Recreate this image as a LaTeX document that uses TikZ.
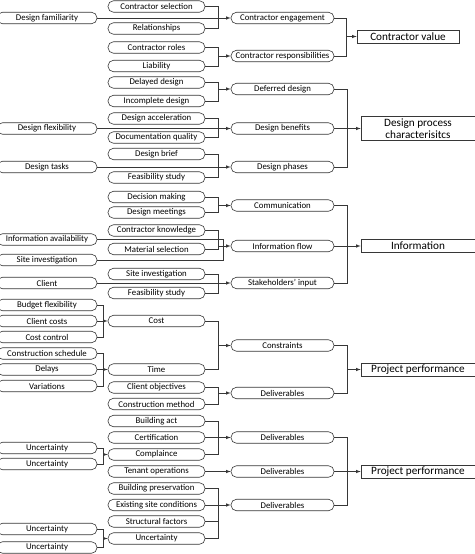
\documentclass[tikz,border=0pt]{standalone}
\usepackage{fontspec}
\setmainfont{Carlito}
\usetikzlibrary{arrows}
\definecolor{linegray}{RGB}{55,55,55}

\begin{document}
\begin{tikzpicture}[x=1pt, y=-1pt, line width=0.6pt,
  cell/.style={rectangle, draw=linegray, rounded corners=5.5pt, minimum height=11.5pt, inner sep=0pt, font=\fontsize{8.8}{10}\selectfont},
  cellA/.style={cell, minimum width=100pt},
  cellB/.style={cell, minimum width=97pt},
  cellC/.style={cell, minimum width=103pt},
  result/.style={rectangle, draw=linegray, minimum width=114pt, minimum height=13pt, inner sep=0pt, align=center, font=\fontsize{11.2}{12.5}\selectfont},
  wire/.style={draw=linegray},
  link/.style={->, >=latex, draw=linegray}]

\useasboundingbox (0,0) rectangle (474,554);

% left column
\node[cellA] at (47,18) (famil) {Design familiarity};
\node[cellA] at (47,128.5) (flexib) {Design flexibility};
\node[cellA] at (47,167) (tasks) {Design tasks};
\node[cellA] at (47,239.5) (infoav) {Information availability};
\node[cellA] at (47,260) (siteA) {Site investigation};
\node[cellA] at (47,283) (client) {Client};
\node[cellA] at (47,305) (budget) {Budget flexibility};
\node[cellA] at (47,321) (clcost) {Client costs};
\node[cellA] at (47,337) (costctl) {Cost control};
\node[cellA] at (47,353.5) (sched) {Construction schedule};
\node[cellA] at (47,369.5) (delays) {Delays};
\node[cellA] at (47,386) (variat) {Variations};
\node[cellA] at (47,448) (uncA1) {Uncertainty};
\node[cellA] at (47,464) (uncA2) {Uncertainty};
\node[cellA] at (47,529) (uncA3) {Uncertainty};
\node[cellA] at (47,547.5) (uncA4) {Uncertainty};

% second column
\node[cellB] at (156.5,6.5) (csel) {Contractor selection};
\node[cellB] at (156.5,28.5) (relat) {Relationships};
\node[cellB] at (156.5,47.5) (croles) {Contractor roles};
\node[cellB] at (156.5,66) (liab) {Liability};
\node[cellB] at (156.5,82.5) (deldes) {Delayed design};
\node[cellB] at (156.5,101) (incdes) {Incomplete design};
\node[cellB] at (156.5,118.5) (desacc) {Design acceleration};
\node[cellB] at (156.5,137.5) (docq) {Documentation quality};
\node[cellB] at (156.5,154) (brief) {Design brief};
\node[cellB] at (156.5,177.5) (feasA) {Feasibility study};
\node[cellB] at (156.5,197) (decmak) {Decision making};
\node[cellB] at (156.5,212.5) (desmeet) {Design meetings};
\node[cellB] at (156.5,230.5) (cknow) {Contractor knowledge};
\node[cellB] at (156.5,249) (matsel) {Material selection};
\node[cellB] at (156.5,274) (siteB) {Site investigation};
\node[cellB] at (156.5,293) (feasB) {Feasibility study};
\node[cellB] at (156.5,321) (cost) {Cost};
\node[cellB] at (156.5,369.5) (time) {Time};
\node[cellB] at (156.5,387.5) (clobj) {Client objectives};
\node[cellB] at (156.5,404) (cmeth) {Construction method};
\node[cellB] at (156.5,421) (bact) {Building act};
\node[cellB] at (156.5,437.5) (cert) {Certification};
\node[cellB] at (156.5,454.5) (compl) {Complaince};
\node[cellB] at (156.5,471.5) (tenant) {Tenant operations};
\node[cellB] at (156.5,488.5) (bpres) {Building preservation};
\node[cellB] at (156.5,505) (exsite) {Existing site conditions};
\node[cellB] at (156.5,521.5) (struct) {Structural factors};
\node[cellB] at (156.5,538.5) (uncB) {Uncertainty};

% third column
\node[cellC] at (282.5,18) (engage) {Contractor engagement};
\node[cellC] at (282.5,56) (respons) {Contractor responsibilities};
\node[cellC] at (282.5,89) (deferred) {Deferred design};
\node[cellC] at (282.5,128.5) (benefits) {Design benefits};
\node[cellC] at (282.5,167) (phases) {Design phases};
\node[cellC] at (282.5,205.5) (comm) {Communication};
\node[cellC] at (282.5,246) (iflow) {Information flow};
\node[cellC] at (282.5,283) (stake) {Stakeholders' input};
\node[cellC] at (282.5,345.5) (constr) {Constraints};
\node[cellC] at (282.5,393) (deliv1) {Deliverables};
\node[cellC] at (282.5,437.5) (deliv2) {Deliverables};
\node[cellC] at (282.5,471.5) (deliv3) {Deliverables};
\node[cellC] at (282.5,505) (deliv4) {Deliverables};

% outcomes
\node[result, minimum width=102pt] at (408,36.5) (cvalue) {Contractor value};
\node[result, minimum height=24pt] at (418,128.5) (dpc) {Design process\\characterisitcs};
\node[result] at (418,246) (info) {Information};
\node[result] at (418,369.5) (pp1) {Project performance};
\node[result] at (418,471.5) (pp2) {Project performance};

% junctions
\coordinate (j1) at (218,18);
\coordinate (j2) at (218,56);
\coordinate (j3) at (218,89);
\coordinate (j4) at (218,128.5);
\coordinate (j5) at (218,167);
\coordinate (j6) at (218,205.5);
\coordinate (j7) at (218,246);
\coordinate (j7b) at (223,246);
\coordinate (j8) at (218,283);
\coordinate (j9) at (218,345.5);
\coordinate (j10) at (218,393);
\coordinate (j11) at (218,437.5);
\coordinate (j12) at (218,505);
\coordinate (jc) at (103,321);
\coordinate (jt) at (103,369.5);
\coordinate (ju1) at (103,454.5);
\coordinate (ju2) at (103,538.5);
\coordinate (k1) at (346,36.5);
\coordinate (k2) at (347,128.5);
\coordinate (k3) at (347,246);
\coordinate (k4) at (347,369.5);
\coordinate (k5) at (347,471.5);

% first level
\draw[wire] (csel.east) -| (j1);
\draw[wire] (relat.east) -| (j1);
\draw[link] (famil) -- (engage);

\draw[wire] (croles.east) -| (j2);
\draw[wire] (liab.east) -| (j2);
\draw[link] (j2) -- (respons);

\draw[wire] (deldes.east) -| (j3);
\draw[wire] (incdes.east) -| (j3);
\draw[link] (j3) -- (deferred);

\draw[wire] (desacc.east) -| (j4);
\draw[wire] (docq.east) -| (j4);
\draw[link] (flexib) -- (benefits);

\draw[wire] (brief.east) -| (j5);
\draw[wire] (feasA.east) -| (j5);
\draw[link] (tasks) -- (phases);

\draw[wire] (decmak.east) -| (j6);
\draw[wire] (desmeet.east) -| (j6);
\draw[link] (j6) -- (comm);

\draw[wire] (cknow.east) -| (j7);
\draw[wire] (matsel.east) -| (j7);
\draw[wire] (infoav.east) -| (j7b);
\draw[wire] (siteA.east) -| (j7b);
\draw[link] (j7) -- (iflow);

\draw[wire] (siteB.east) -| (j8);
\draw[wire] (feasB.east) -| (j8);
\draw[link] (client) -- (stake);

\draw[wire] (budget.east) -| (jc);
\draw[wire] (costctl.east) -| (jc);
\draw[link] (clcost) -- (cost);

\draw[wire] (sched.east) -| (jt);
\draw[wire] (variat.east) -| (jt);
\draw[link] (delays) -- (time);

\draw[wire] (cost.east) -| (j9);
\draw[wire] (time.east) -| (j9);
\draw[link] (j9) -- (constr);

\draw[wire] (clobj.east) -| (j10);
\draw[wire] (cmeth.east) -| (j10);
\draw[link] (j10) -- (deliv1);

\draw[wire] (uncA1.east) -| (ju1);
\draw[wire] (uncA2.east) -| (ju1);
\draw[link] (ju1) -- (compl);

\draw[wire] (bact.east) -| (j11);
\draw[wire] (compl.east) -| (j11);
\draw[link] (cert) -- (deliv2);

\draw[link] (tenant) -- (deliv3);

\draw[wire] (uncA3.east) -| (ju2);
\draw[wire] (uncA4.east) -| (ju2);
\draw[link] (ju2) -- (uncB);

\draw[wire] (bpres.east) -| (j12);
\draw[wire] (struct.east) -| (j12);
\draw[wire] (uncB.east) -| (j12);
\draw[link] (exsite) -- (deliv4);

% second level
\draw[wire] (engage.east) -| (k1);
\draw[wire] (respons.east) -| (k1);
\draw[link] (k1) -- (cvalue);

\draw[wire] (deferred.east) -| (k2);
\draw[wire] (phases.east) -| (k2);
\draw[link] (benefits) -- (dpc);

\draw[wire] (comm.east) -| (k3);
\draw[wire] (stake.east) -| (k3);
\draw[link] (iflow) -- (info);

\draw[wire] (constr.east) -| (k4);
\draw[wire] (deliv1.east) -| (k4);
\draw[link] (k4) -- (pp1);

\draw[wire] (deliv2.east) -| (k5);
\draw[wire] (deliv4.east) -| (k5);
\draw[link] (deliv3) -- (pp2);
\end{tikzpicture}
\end{document}
